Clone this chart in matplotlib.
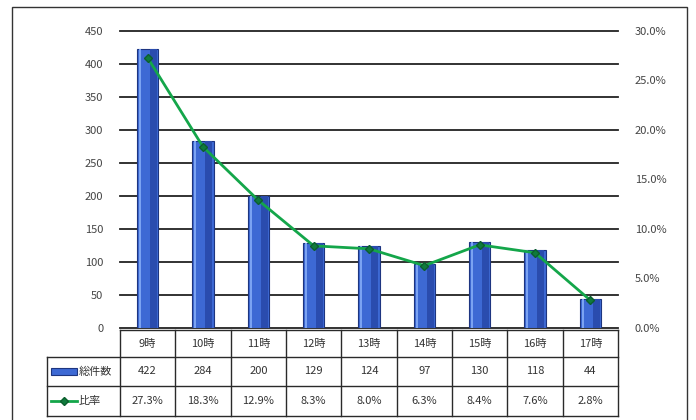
import matplotlib
matplotlib.use("Agg")
import matplotlib.pyplot as plt
from matplotlib.lines import Line2D
from matplotlib.patches import Rectangle
from matplotlib.transforms import blended_transform_factory
import numpy as np

plt.rcParams['font.family'] = ['Noto Sans CJK JP', 'DejaVu Sans']

hours = ['9時', '10時', '11時', '12時', '13時', '14時', '15時', '16時', '17時']
counts = [422, 284, 200, 129, 124, 97, 130, 118, 44]
ratios = [27.3, 18.3, 12.9, 8.3, 8.0, 6.3, 8.4, 7.6, 2.8]
count_label = '総件数'
ratio_label = '比率'
left_ticks = [0, 50, 100, 150, 200, 250, 300, 350, 400, 450]
right_ticks = [0, 5, 10, 15, 20, 25, 30]

W, H = 696, 420
fig = plt.figure(figsize=(W / 100, H / 100), dpi=100)

def fx(px):
    return px / W

def fy(py):
    return 1 - py / H

ax_l, ax_r, ax_t, ax_b = 120, 618, 31, 328
ax = fig.add_axes([fx(ax_l), fy(ax_b), fx(ax_r - ax_l), (ax_b - ax_t) / H])
x = np.arange(len(hours))
ax.set_xlim(-0.5, len(hours) - 0.5)
ax.set_ylim(0, 450)
ax.set_yticks(left_ticks)
ax.yaxis.grid(True, color='#222222', linewidth=1.3)
for gl in ax.yaxis.get_gridlines():
    gl.set_clip_on(False)
ax.set_axisbelow(True)
ax.set_xticks([])
for s in ax.spines.values():
    s.set_visible(False)
ax.tick_params(axis='y', length=0, pad=12, labelsize=8, labelcolor='#444444')

bar_w = 0.38
ax.bar(x, counts, width=bar_w, color='#3d69d4', edgecolor='#1d3580', linewidth=0.8, zorder=2)
ax.bar(x + 0.105, counts, width=0.13, color='#2a4cae', linewidth=0, zorder=3)
ax.bar(x - 0.14, counts, width=0.035, color='#7ba3f2', linewidth=0, zorder=3)

ax2 = ax.twinx()
ax2.set_ylim(0, 30)
ax2.set_yticks(right_ticks)
ax2.set_yticklabels([f'{t:.1f}%' for t in right_ticks])
for s in ax2.spines.values():
    s.set_visible(False)
ax2.tick_params(axis='y', length=0, pad=12, labelsize=8, labelcolor='#444444')
line_color = '#14a64a'
ax2.plot(x, ratios, color=line_color, linewidth=2, marker='D', markersize=4.5,
         markerfacecolor='#0f7a3c', markeredgecolor='#0b5e2e', zorder=4)

# data table beneath the plot
tr = blended_transform_factory(ax.transData, fig.transFigure)
tf = fig.transFigure
lc, lw = '#2a2a2a', 1.0
row_y = [330, 357, 386, 416]
x_edges = np.arange(len(hours) + 1) - 0.5
leg_left = -0.5 - (ax_l - 47) / ((ax_r - ax_l) / len(hours))

fig.add_artist(Line2D([x_edges[0], x_edges[-1]], [fy(row_y[0])] * 2, transform=tr, color=lc, lw=lw))
for ry in row_y[1:]:
    fig.add_artist(Line2D([leg_left, x_edges[-1]], [fy(ry)] * 2, transform=tr, color=lc, lw=lw))
for xe in x_edges:
    fig.add_artist(Line2D([xe, xe], [fy(row_y[0]), fy(row_y[-1])], transform=tr, color=lc, lw=lw))
fig.add_artist(Line2D([leg_left, leg_left], [fy(row_y[1]), fy(row_y[-1])], transform=tr, color=lc, lw=lw))

txt = dict(transform=tr, ha='center', va='center', fontsize=8, color='#333333')
for i in range(len(hours)):
    fig.text(x[i], fy((row_y[0] + row_y[1]) / 2), hours[i], **txt)
    fig.text(x[i], fy((row_y[1] + row_y[2]) / 2), str(counts[i]), **txt)
    fig.text(x[i], fy((row_y[2] + row_y[3]) / 2), f'{ratios[i]:.1f}%', **txt)

# legend keys in the row headers
ym1 = fy((row_y[1] + row_y[2]) / 2)
fig.add_artist(Rectangle((fx(51), ym1 - 3.5 / H), fx(26), 7 / H, transform=tf,
                         facecolor='#3d69d4', edgecolor='#1d3580', lw=0.8))
fig.text(fx(79), ym1, count_label, transform=tf, ha='left', va='center', fontsize=8, color='#333333')
ym2 = fy((row_y[2] + row_y[3]) / 2)
fig.add_artist(Line2D([fx(51), fx(77)], [ym2, ym2], transform=tf, color=line_color, lw=2))
fig.add_artist(Line2D([fx(64)], [ym2], transform=tf, color=line_color, lw=0,
                      marker='D', markersize=4.5, markerfacecolor='#0f7a3c', markeredgecolor='#0b5e2e'))
fig.text(fx(79), ym2, ratio_label, transform=tf, ha='left', va='center', fontsize=8, color='#333333')

# outer chart frame
fig.add_artist(Rectangle((fx(12), fy(428)), fx(687 - 12), (428 - 7) / H, transform=tf,
                         fill=False, edgecolor='#333333', lw=1.0))

fig.savefig('out.png', dpi=100)
